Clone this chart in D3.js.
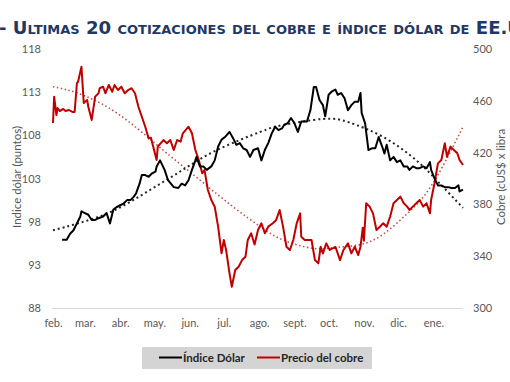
<!DOCTYPE html>
<html>
<head>
<meta charset="utf-8">
<script src="https://cdn.jsdelivr.net/npm/d3@7"></script>
<style>
  body { margin: 0; background: #fff; }
  svg { display: block; }
</style>
</head>
<body>
<div id="chart"></div>
<script>
// series: [days since 1 feb 2022, value]
let dollar = [
  [8, 95.9], [12, 95.9], [15, 96.6], [18, 97.0], [21, 97.8], [24, 98.6], [25, 99.2], [28, 99.0],
  [31, 98.8], [34, 98.2], [37, 98.2], [40, 98.4], [44, 98.6], [47, 99.0], [50, 97.8], [53, 99.4],
  [56, 99.7], [59, 99.9], [62, 100.1], [65, 100.5], [68, 100.5], [71, 100.9], [73, 101.3], [76, 102.4],
  [78, 103.4], [81, 103.4], [84, 103.2], [87, 103.6], [90, 103.8], [91, 104.4], [94, 105.1], [98, 104.0],
  [101, 102.8], [106, 102.0], [110, 101.9], [113, 102.4], [116, 102.2], [119, 102.8], [122, 104.0], [125, 105.1],
  [126, 105.5], [129, 104.4], [132, 104.4], [135, 104.0], [139, 104.4], [142, 105.1], [145, 106.7], [148, 107.5],
  [151, 107.8], [155, 108.4], [158, 107.7], [161, 106.9], [164, 107.1], [167, 106.5], [170, 106.3], [173, 105.5],
  [176, 106.3], [180, 106.5], [183, 105.1], [186, 106.3], [189, 107.1], [192, 108.2], [195, 109.0], [198, 108.6],
  [201, 108.8], [203, 109.2], [206, 109.4], [209, 110.0], [212, 109.4], [215, 108.4], [218, 109.6], [223, 109.6],
  [226, 110.9], [229, 113.6], [231, 113.6], [234, 112.1], [237, 111.5], [239, 110.2], [242, 112.7], [245, 113.1],
  [248, 113.3], [250, 112.7], [253, 112.9], [256, 112.3], [259, 110.9], [262, 111.5], [265, 111.9], [268, 111.9],
  [270, 112.9], [271, 110.6], [274, 109.4], [277, 106.3], [280, 106.5], [283, 106.5], [286, 107.8], [289, 106.7],
  [291, 105.9], [293, 106.9], [296, 105.1], [299, 105.5], [302, 104.9], [305, 105.1], [308, 104.4], [311, 104.4],
  [313, 104.0], [316, 104.4], [319, 104.2], [322, 104.2], [325, 104.4], [328, 104.2], [331, 104.9], [332, 104.0],
  [335, 103.0], [338, 102.2], [341, 102.2], [344, 102.0], [347, 102.0], [350, 101.9], [353, 101.9], [356, 102.2],
  [357, 101.5], [360, 101.7]
]

let copper = [
  [0, 442.9], [1, 463.2], [3, 449.0], [4, 454.4], [6, 452.1], [9, 453.7], [11, 452.1], [14, 452.9],
  [17, 451.4], [19, 451.4], [21, 473.7], [22, 474.7], [25, 486.3], [27, 458.3], [30, 460.6], [31, 455.4],
  [34, 445.2], [37, 463.2], [40, 465.8], [41, 469.7], [44, 470.9], [46, 465.8], [49, 472.2], [52, 467.0],
  [54, 472.2], [57, 468.3], [60, 470.9], [63, 465.8], [66, 468.3], [69, 469.7], [72, 465.8], [75, 455.4],
  [78, 447.7], [81, 440.0], [84, 431.0], [86, 431.5], [88, 424.6], [91, 414.3], [92, 424.6], [97, 429.7],
  [100, 427.2], [103, 429.7], [106, 422.0], [109, 429.7], [112, 428.4], [114, 434.9], [119, 440.0], [122, 434.9],
  [125, 422.0], [128, 414.3], [131, 404.0], [133, 406.6], [136, 391.1], [139, 383.4], [142, 378.2], [145, 362.8],
  [148, 342.2], [150, 352.5], [152, 344.8], [155, 326.8], [157, 316.4], [160, 329.3], [163, 331.9], [166, 337.0],
  [169, 339.6], [171, 352.5], [174, 357.7], [177, 349.0], [180, 360.2], [183, 365.4], [186, 357.7], [189, 362.8],
  [193, 365.4], [196, 368.0], [199, 375.7], [202, 362.8], [205, 347.3], [208, 344.8], [211, 352.5], [214, 365.4],
  [217, 373.1], [218, 355.0], [221, 352.5], [227, 352.5], [230, 337.0], [233, 334.5], [235, 347.3], [237, 342.2],
  [240, 349.9], [243, 344.8], [248, 347.3], [252, 337.0], [255, 344.8], [259, 349.9], [262, 342.2], [265, 347.3],
  [268, 340.9], [270, 347.3], [272, 362.0], [273, 352.0], [275, 380.9], [278, 378.3], [281, 373.1], [284, 360.2],
  [287, 362.8], [290, 365.4], [293, 362.8], [296, 370.5], [299, 380.9], [302, 383.4], [305, 386.0], [308, 380.9],
  [311, 378.3], [313, 375.7], [316, 378.3], [319, 380.9], [322, 383.4], [325, 378.3], [328, 380.9], [331, 373.1],
  [332, 383.4], [335, 396.3], [338, 411.7], [341, 414.3], [344, 427.2], [346, 416.8], [349, 424.6], [352, 422.0],
  [355, 419.5], [357, 414.3], [360, 410.4]
]

// trend lines as drawn in the picture
let dollarTrend = [
  [0, 97.0], [22, 97.8], [52, 99.2], [83, 101.5], [114, 104.0], [144, 106.3], [182, 108.4],
  [202, 109.2], [237, 109.9], [260, 109.5], [290, 107.8], [319, 105.1], [339, 102.5], [360, 99.6]
]
let copperTrend = [
  [0, 470.9], [22, 465.8], [52, 452.9], [81, 433.6], [100, 419.5], [129, 398.8], [158, 378.2],
  [182, 362.8], [202, 352.5], [229, 346.0], [249, 346.8], [270, 349.0], [290, 357.0], [310, 372.0],
  [328, 389.0], [345, 414.0], [360, 440.0]
]

let monthLabels = ['feb.', 'mar.', 'abr.', 'may.', 'jun.', 'jul.', 'ago.', 'sept.', 'oct.', 'nov.', 'dic.', 'ene.']
let leftTicks = [88, 93, 98, 103, 108, 113, 118]
let rightTicks = [300, 340, 380, 420, 460, 500]

let svgWidth = 510, svgHeight = 382
let start = new Date(2022, 1, 1)
let day = d => d3.timeDay.offset(start, d)

let svg = d3.select('#chart').append('svg')
    .attr('width', svgWidth)
    .attr('height', svgHeight)

let x = d3.scaleTime()
    .domain([start, day(360)])
    .range([53, 463])

let yL = d3.scaleLinear().domain([88, 118]).range([308, 49])
let yR = d3.scaleLinear().domain([300, 500]).range([308, 49])

let tickFont = 'Lato, "Open Sans", sans-serif'

// title (runs off the right edge like the original)
svg.append('text')
    .attr('x', -1)
    .attr('y', 34)
    .attr('font-family', '"DejaVu Sans", Verdana, sans-serif')
    .attr('font-weight', 'bold')
    .attr('font-size', 18.1)
    .attr('font-variant', 'small-caps')
    .attr('fill', '#1f3864')
    .text('- Ultimas 20 cotizaciones del cobre e índice dólar de EE.UU.')

// base line
svg.append('line')
    .attr('x1', 52).attr('x2', 463)
    .attr('y1', 308.5).attr('y2', 308.5)
    .attr('stroke', '#d9d9d9')
    .attr('stroke-width', 1)

// left axis
let leftAxis = svg.append('g')
    .attr('transform', 'translate(41,0)')
    .call(d3.axisLeft(yL).tickValues(leftTicks).tickSize(0).tickPadding(0))
leftAxis.select('.domain').remove()
leftAxis.selectAll('text')
    .attr('font-family', tickFont).attr('font-size', 11).attr('fill', '#595959')

// right axis
let rightAxis = svg.append('g')
    .attr('transform', 'translate(473,0)')
    .call(d3.axisRight(yR).tickValues(rightTicks).tickSize(0).tickPadding(0))
rightAxis.select('.domain').remove()
rightAxis.selectAll('text')
    .attr('font-family', tickFont).attr('font-size', 11).attr('fill', '#595959')

// month axis
let months = d3.range(12).map(i => d3.timeMonth.offset(start, i))
let xAxis = svg.append('g')
    .attr('transform', 'translate(0,308)')
    .call(d3.axisBottom(x).tickValues(months).tickSize(0).tickPadding(11)
        .tickFormat((d, i) => monthLabels[i]))
xAxis.select('.domain').remove()
xAxis.selectAll('text')
    .attr('font-family', tickFont).attr('font-size', 11).attr('fill', '#595959')

// axis titles
svg.append('text')
    .attr('transform', 'translate(21,177) rotate(-90)')
    .attr('text-anchor', 'middle')
    .attr('font-family', tickFont).attr('font-size', 11.5).attr('fill', '#595959')
    .text('Indice dólar (puntos)')

svg.append('text')
    .attr('transform', 'translate(505,177) rotate(-90)')
    .attr('text-anchor', 'middle')
    .attr('font-family', tickFont).attr('font-size', 11.5).attr('fill', '#595959')
    .text('Cobre (cUS$ x libra')

// trend lines
let trendL = d3.line().x(d => x(day(d[0]))).y(d => yL(d[1])).curve(d3.curveNatural)
let trendR = d3.line().x(d => x(day(d[0]))).y(d => yR(d[1])).curve(d3.curveNatural)

svg.append('path')
    .attr('d', trendR(copperTrend))
    .attr('fill', 'none')
    .attr('stroke', '#c0504d')
    .attr('stroke-width', 1.6)
    .attr('stroke-dasharray', '1.5,2.5')

svg.append('path')
    .attr('d', trendL(dollarTrend))
    .attr('fill', 'none')
    .attr('stroke', '#262626')
    .attr('stroke-width', 2)
    .attr('stroke-dasharray', '2,3')

// data lines
let lineL = d3.line().x(d => x(day(d[0]))).y(d => yL(d[1]))
let lineR = d3.line().x(d => x(day(d[0]))).y(d => yR(d[1]))

svg.append('path')
    .attr('d', lineR(copper))
    .attr('fill', 'none')
    .attr('stroke', '#c00000')
    .attr('stroke-width', 2)
    .attr('stroke-linejoin', 'round')

svg.append('path')
    .attr('d', lineL(dollar))
    .attr('fill', 'none')
    .attr('stroke', '#000')
    .attr('stroke-width', 2)
    .attr('stroke-linejoin', 'round')

// legend
let legend = svg.append('g')
legend.append('rect')
    .attr('x', 142).attr('y', 347)
    .attr('width', 230).attr('height', 22)
    .attr('fill', '#d4d4d4')

let keys = [
    { name: 'Índice Dólar', color: '#000', x: 159 },
    { name: 'Precio del cobre', color: '#c00000', x: 257 }
]
let keyG = legend.selectAll('.key').data(keys).enter().append('g').attr('class', 'key')
keyG.append('line')
    .attr('x1', d => d.x).attr('x2', d => d.x + 23)
    .attr('y1', 357.5).attr('y2', 357.5)
    .attr('stroke', d => d.color).attr('stroke-width', 2)
keyG.append('text')
    .attr('x', d => d.x + 24).attr('y', 361.5)
    .attr('font-family', tickFont).attr('font-weight', 'bold').attr('font-size', 11.5)
    .attr('fill', '#262626')
    .text(d => d.name)
</script>
</body>
</html>
